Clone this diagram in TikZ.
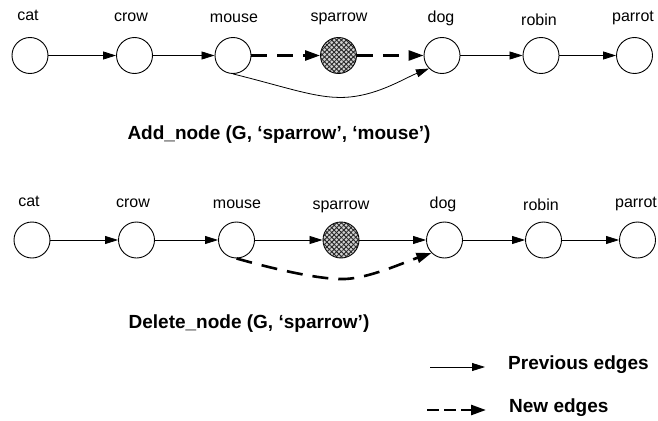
\documentclass[tikz,border=0pt]{standalone}
\usepackage{fontspec}
\setmainfont{Liberation Sans}
\usetikzlibrary{arrows.meta,patterns.meta}
\begin{document}
\begin{tikzpicture}[x=1pt,y=-1pt,
  vertex/.style={circle,draw,line width=0.9pt,minimum size=36pt,inner sep=0pt},
  hatched/.style={vertex,fill=gray!35,
    postaction={pattern={Lines[angle=45,distance=3.4pt,line width=0.9pt]},pattern color=black!85},
    postaction={pattern={Lines[angle=-45,distance=3.4pt,line width=0.9pt]},pattern color=black!85}},
  lbl/.style={anchor=base,font=\fontsize{16}{18}\selectfont,inner sep=0pt},
  title/.style={anchor=base,font=\fontsize{19}{22}\selectfont\bfseries,inner sep=0pt},
  oldedge/.style={line width=0.8pt,-{Triangle[length=13pt,width=8pt]}},
  newedge/.style={line width=2.6pt,dash pattern=on 16pt off 10pt,
                  -{Triangle[length=15pt,width=10pt]}}]
\useasboundingbox (0,0) rectangle (658,420);

% ---- upper graph: Add_node ----
\node[vertex]  (a1) at (30,55.5)    {};
\node[vertex]  (a2) at (134.5,55.5) {};
\node[vertex]  (a3) at (233,55.5)   {};
\node[hatched] (a4) at (338.5,55.5) {};
\node[vertex]  (a5) at (442,55.5)   {};
\node[vertex]  (a6) at (541,55.5)   {};
\node[vertex]  (a7) at (634.5,55.5) {};

\node[lbl] (la1) at (28,21)  {cat};
\node[lbl] (la2) at (131,22) {crow};
\node[lbl] (la3) at (234,23) {mouse};
\node[lbl] (la4) at (339,22) {sparrow};
\node[lbl] (la5) at (441,23) {dog};
\node[lbl] (la6) at (539,26) {robin};
\node[lbl] (la7) at (633,22) {parrot};

\draw[oldedge] (a1) -- (a2);
\draw[oldedge] (a2) -- (a3);
\draw[newedge] (a3) -- (a4);
\draw[newedge] (a4) -- (a5);
\draw[oldedge] (a3.south) .. controls (290,88) and (320,100) .. (350,97)
               .. controls (380,94) and (405,78) .. (a5.south west);
\draw[oldedge] (a5) -- (a6);
\draw[oldedge] (a6) -- (a7);

\node[title] (t1) at (279,139) {Add\_node (G, ‘sparrow’, ‘mouse’)};

% ---- lower graph: Delete_node ----
\node[vertex]  (b1) at (32,240)    {};
\node[vertex]  (b2) at (136.5,240) {};
\node[vertex]  (b3) at (236.5,240) {};
\node[hatched] (b4) at (341,240)   {};
\node[vertex]  (b5) at (444.5,240) {};
\node[vertex]  (b6) at (543.5,240) {};
\node[vertex]  (b7) at (637.5,240) {};

\node[lbl] (lb1) at (29,206)  {cat};
\node[lbl] (lb2) at (133,207) {crow};
\node[lbl] (lb3) at (237,208) {mouse};
\node[lbl] (lb4) at (341,209) {sparrow};
\node[lbl] (lb5) at (443,208) {dog};
\node[lbl] (lb6) at (541,210) {robin};
\node[lbl] (lb7) at (636,207) {parrot};

\draw[oldedge] (b1) -- (b2);
\draw[oldedge] (b2) -- (b3);
\draw[oldedge] (b3) -- (b4);
\draw[oldedge] (b4) -- (b5);
\draw[newedge] (b3.south) .. controls (270,268) and (320,280) .. (345,279)
               .. controls (370,278) and (405,262) .. (b5.south west);
\draw[oldedge] (b5) -- (b6);
\draw[oldedge] (b6) -- (b7);

\node[title] (t2) at (249,328) {Delete\_node (G, ‘sparrow’)};

% ---- legend ----
\coordinate (p0) at (430,367);
\coordinate (p1) at (485,367);
\coordinate (n0) at (427,410);
\coordinate (n1) at (486,410);
\draw[oldedge] (p0) -- (p1);
\draw[newedge,dash pattern=on 12pt off 5pt] (n0) -- (n1);
\node[title,anchor=base west] (lp) at (508,369) {Previous edges};
\node[title,anchor=base west] (ln) at (509,412) {New edges};
\end{tikzpicture}
\end{document}
